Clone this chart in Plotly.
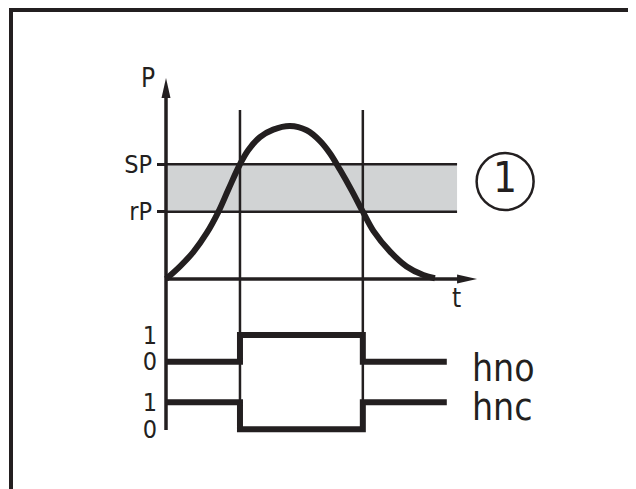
"""Diagrama de histeresis: presion P con SP/rP y salidas hno/hnc."""

import plotly.graph_objects as go

# curva de presion (t, P)
t_curva = [0.0, 0.52, 1.01, 1.51, 1.94, 2.31, 2.74, 3.05, 3.48, 3.97, 4.59,
           5.21, 5.70, 6.07, 6.44, 6.88, 7.29, 7.68, 8.30, 8.91, 9.53, 9.96]
p_curva = [0.0, 0.83, 1.76, 3.01, 4.39, 5.85, 7.50, 8.43, 9.27, 9.76, 10.0,
           9.72, 9.03, 8.22, 7.15, 5.78, 4.40, 3.15, 1.79, 0.82, 0.26, 0.05]

# puntos de conmutacion
SP = 7.5
RP = 4.4
T_ON = 2.74
T_OFF = 7.29

# salidas (cambios de estado)
t_salida = [0.0, T_ON, T_OFF, 10.4]
hno = [0, 1, 0, 0]
hnc = [1, 0, 1, 1]
estados = [0, 1]
etiquetas_estado = ['0', '1']

# extremos de ejes y marcas del dibujo
T_BANDA = 10.78
T_FLECHA = 11.52
P_FLECHA = 13.14
P_LINEA_SUP = 11.05
P_EJE_INF = -9.87

OSCURO = '#231f20'
GRIS = '#d1d3d4'
FUENTE = 'DejaVu Sans Condensed, Liberation Sans Narrow, Arial Narrow, sans-serif'

ANCHO, ALTO = 636, 489
DESPLAZ = 8  # margen del body de la pagina


def rango(origen_px, px_por_unidad, total_px, invertido=False):
    # rango de eje para que el valor 0 caiga en origen_px (pixel de la ventana)
    o = origen_px - DESPLAZ
    if invertido:
        return [(o - total_px) / px_por_unidad, o / px_por_unidad]
    return [-o / px_por_unidad, (total_px - o) / px_por_unidad]


fig = go.Figure()

# lineas SP y rP
for nivel in (SP, RP):
    fig.add_trace(go.Scatter(
        x=[0, T_BANDA], y=[nivel, nivel], mode='lines',
        line=dict(color=OSCURO, width=2.5), hoverinfo='skip'
    ))

# lineas verticales de conmutacion
for t in (T_ON, T_OFF):
    fig.add_trace(go.Scatter(
        x=[t, t], y=[P_LINEA_SUP, P_EJE_INF], mode='lines',
        line=dict(color=OSCURO, width=2.5), hoverinfo='skip'
    ))

# ejes con flecha
fig.add_trace(go.Scatter(
    x=[0, 0], y=[P_FLECHA - 0.8, P_EJE_INF],
    mode='lines', line=dict(color=OSCURO, width=3.5), hoverinfo='skip'
))
fig.add_trace(go.Scatter(
    x=[0, T_FLECHA - 0.4], y=[0, 0],
    mode='lines', line=dict(color=OSCURO, width=3.5), hoverinfo='skip'
))

# curva de presion
fig.add_trace(go.Scatter(
    x=t_curva, y=p_curva, mode='lines',
    line=dict(color=OSCURO, width=6, shape='spline', smoothing=1.0),
    hoverinfo='skip'
))

# salidas hno / hnc
fig.add_trace(go.Scatter(
    x=t_salida, y=hno, yaxis='y2', mode='lines',
    line=dict(color=OSCURO, width=6, shape='hv'), hoverinfo='skip'
))
fig.add_trace(go.Scatter(
    x=t_salida, y=hnc, yaxis='y3', mode='lines',
    line=dict(color=OSCURO, width=6, shape='hv'), hoverinfo='skip'
))

# marca (1)
fig.add_trace(go.Scatter(
    x=[12.56], y=[6.37], mode='markers+text', text=['1'],
    textposition='middle center',
    textfont=dict(family=FUENTE, size=42, color=OSCURO),
    marker=dict(symbol='circle-open', size=57, color=OSCURO, line=dict(width=2.5)),
    hoverinfo='skip'
))

# banda de histeresis
fig.add_shape(type='rect', x0=0, x1=T_BANDA, y0=RP, y1=SP,
              fillcolor=GRIS, line_width=0, layer='below')

# puntas de flecha
fig.add_shape(type='path', xref='x', yref='y', xsizemode='pixel', ysizemode='pixel',
              xanchor=0, yanchor=P_FLECHA, path='M0,0 L-4.5,-20 L4.5,-20 Z',
              fillcolor=OSCURO, line_width=0)
fig.add_shape(type='path', xref='x', yref='y', xsizemode='pixel', ysizemode='pixel',
              xanchor=T_FLECHA, yanchor=0, path='M0,0 L-20,4.5 L-20,-4.5 Z',
              fillcolor=OSCURO, line_width=0)

# marco
fig.add_shape(type='line', xref='paper', yref='paper',
              x0=(11 - DESPLAZ) / ANCHO, x1=(11 - DESPLAZ) / ANCHO,
              y0=-0.05, y1=1 - (8 - DESPLAZ) / ALTO,
              line=dict(color=OSCURO, width=4))
fig.add_shape(type='line', xref='paper', yref='paper',
              x0=(9 - DESPLAZ) / ANCHO, x1=1.05,
              y0=1 - (10 - DESPLAZ) / ALTO, y1=1 - (10 - DESPLAZ) / ALTO,
              line=dict(color=OSCURO, width=4))

fuente_ejes = dict(family=FUENTE, size=25, color=OSCURO)
fuente_salidas = dict(family=FUENTE, size=37, color=OSCURO)

fig.add_annotation(x=0, y=P_FLECHA, text='P', showarrow=False, xshift=-18,
                   font=dict(family=FUENTE, size=26, color=OSCURO))
fig.add_annotation(x=T_FLECHA, y=0, text='t', showarrow=False, xshift=-21, yshift=-19,
                   font=dict(family=FUENTE, size=26, color=OSCURO))
fig.add_annotation(x=t_salida[-1], y=0, yref='y2', text='hno', showarrow=False,
                   xanchor='left', xshift=23, yshift=-7, font=fuente_salidas)
fig.add_annotation(x=t_salida[-1], y=1, yref='y3', text='hnc', showarrow=False,
                   xanchor='left', xshift=23, yshift=-5, font=fuente_salidas)

pos_eje = (166 - DESPLAZ) / ANCHO
eje_base = dict(showgrid=False, zeroline=False, showline=False, anchor='free',
                position=pos_eje, fixedrange=True)

fig.update_layout(
    width=ANCHO, height=ALTO,
    margin=dict(l=0, r=0, t=0, b=0),
    paper_bgcolor='white', plot_bgcolor='white',
    showlegend=False,
    xaxis=dict(range=rango(166, 27, ANCHO), visible=False),
    yaxis=dict(range=rango(279, 15.3, ALTO, invertido=True),
               tickvals=[RP, SP], ticktext=['rP', 'SP'],
               ticks='outside', ticklen=9, tickwidth=2.5, tickcolor=OSCURO,
               tickfont=fuente_ejes, **eje_base),
    yaxis2=dict(range=rango(361.7, 26.7, ALTO, invertido=True), overlaying='y',
                tickvals=estados, ticktext=etiquetas_estado, ticks='',
                ticklabelstandoff=9, tickfont=fuente_ejes, **eje_base),
    yaxis3=dict(range=rango(429.3, 27, ALTO, invertido=True), overlaying='y',
                tickvals=estados, ticktext=etiquetas_estado, ticks='',
                ticklabelstandoff=9, tickfont=fuente_ejes, **eje_base),
)

fig.write_html('out.html')
